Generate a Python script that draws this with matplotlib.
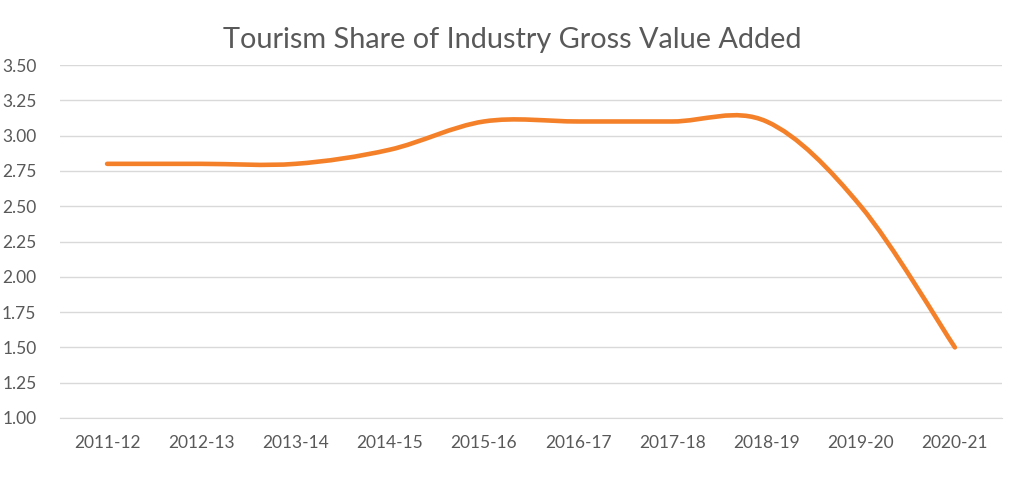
import numpy as np
import matplotlib.pyplot as plt
from matplotlib.path import Path
from matplotlib.patches import PathPatch

# data
years = ['2011-12', '2012-13', '2013-14', '2014-15', '2015-16',
         '2016-17', '2017-18', '2018-19', '2019-20', '2020-21']
share = [2.8, 2.8, 2.8, 2.9, 3.1, 3.1, 3.1, 3.1, 2.5, 1.5]

TEXT = '#595959'
GRID = '#d9d9d9'
ORANGE = '#f4812a'

plt.rcParams['font.family'] = ['Lato', 'DejaVu Sans']


def smooth_path(x, y):
    """Excel-style smoothed line: cubic Bezier through each point,
    control points from neighbouring points (Catmull-Rom, 1/6)."""
    x = np.asarray(x, float)
    y = np.asarray(y, float)
    px = np.concatenate([[x[0]], x, [x[-1]]])
    py = np.concatenate([[y[0]], y, [y[-1]]])
    verts = [(x[0], y[0])]
    codes = [Path.MOVETO]
    for i in range(len(x) - 1):
        j = i + 1
        c1 = (x[i] + (px[j + 1] - px[j - 1]) / 6, y[i] + (py[j + 1] - py[j - 1]) / 6)
        c2 = (x[i + 1] - (px[j + 2] - px[j]) / 6, y[i + 1] - (py[j + 2] - py[j]) / 6)
        verts += [c1, c2, (x[i + 1], y[i + 1])]
        codes += [Path.CURVE4] * 3
    return Path(verts, codes)


fig = plt.figure(figsize=(10.24, 4.82), dpi=100)
ax = fig.add_axes([60 / 1024, 1 - 418 / 482, 942 / 1024, 353 / 482])

xs = np.arange(len(years))
ax.add_patch(PathPatch(smooth_path(xs, share), facecolor='none',
                       edgecolor=ORANGE, lw=3.3, capstyle='round', zorder=3))

ax.set_xlim(-0.5, len(years) - 0.5)
ax.set_ylim(1.0, 3.5)
ax.set_yticks(np.arange(1.0, 3.51, 0.25))
ax.set_yticklabels([f'{v:.2f}' for v in np.arange(1.0, 3.51, 0.25)])
ax.set_xticks(xs)
ax.set_xticklabels(years)
ax.tick_params(axis='both', length=0, labelsize=12.5, colors=TEXT)
ax.tick_params(axis='y', pad=17)
ax.tick_params(axis='x', pad=12)
ax.grid(axis='y', color=GRID, lw=1)
ax.set_axisbelow(True)
for side in ['top', 'right', 'left']:
    ax.spines[side].set_visible(False)
ax.spines['bottom'].set_color(GRID)

fig.suptitle('Tourism Share of Industry Gross Value Added', y=0.945,
             fontsize=20.8, color=TEXT)

fig.savefig('out.png', dpi=100)
